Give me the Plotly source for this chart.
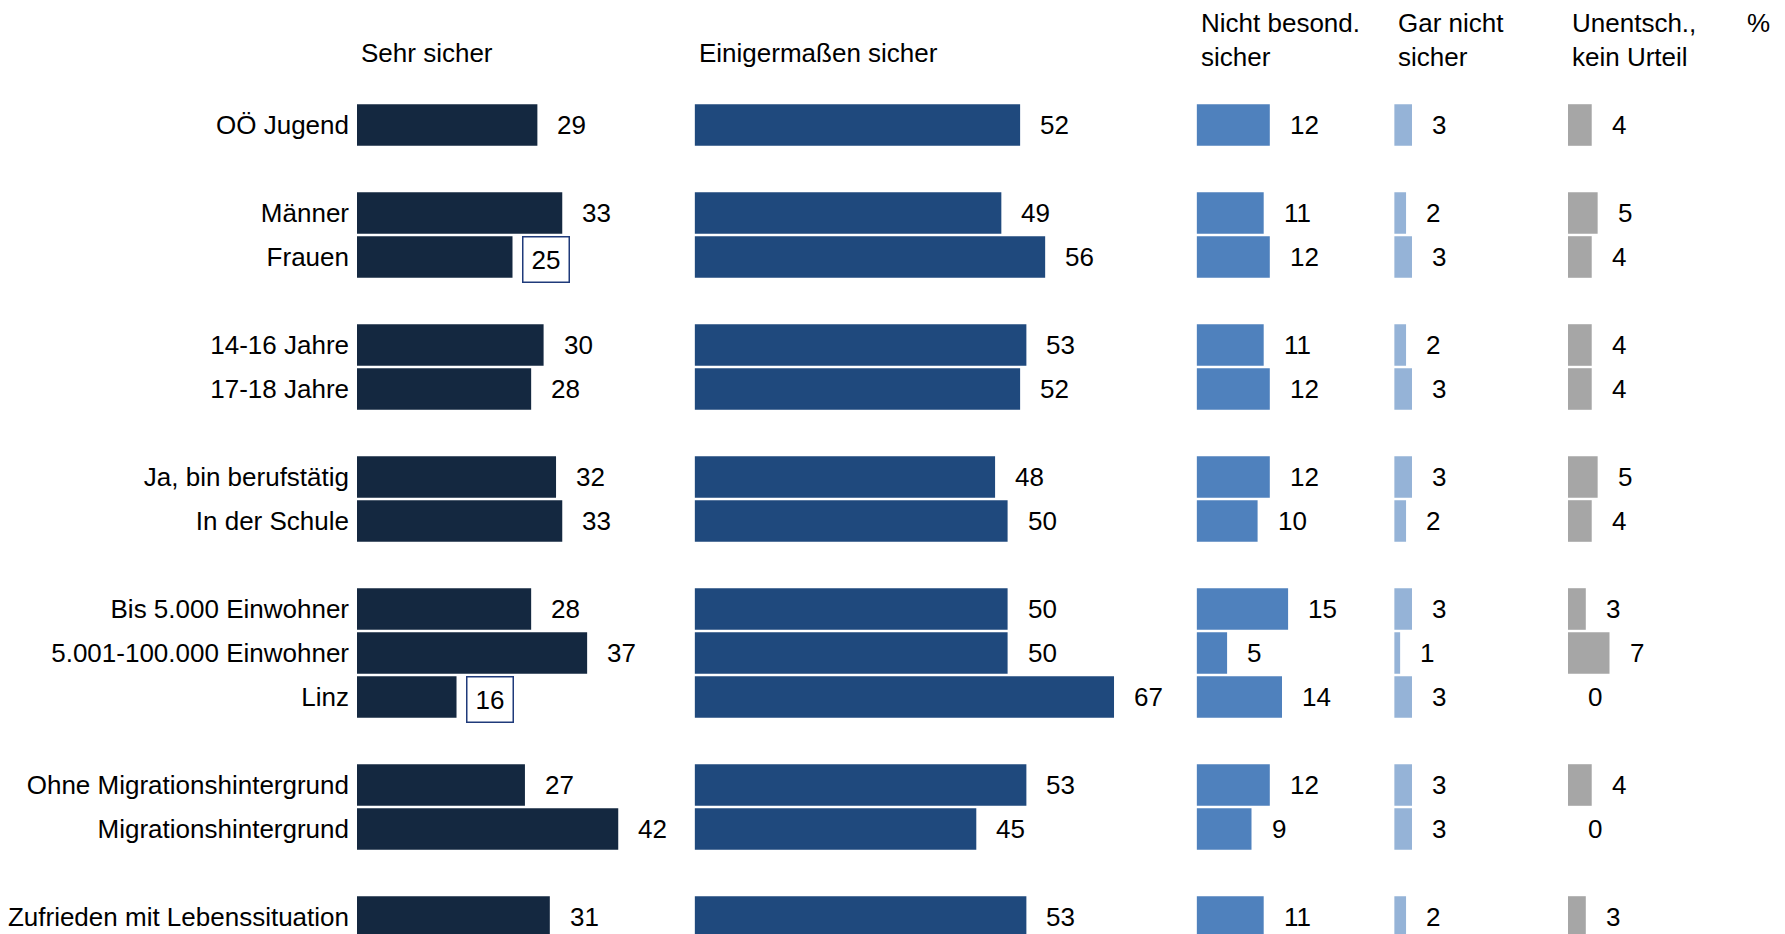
import plotly.graph_objects as go

# row labels, in groups (a blank row is left between groups)
groups = [
    ["OÖ Jugend"],
    ["Männer", "Frauen"],
    ["14-16 Jahre", "17-18 Jahre"],
    ["Ja, bin berufstätig", "In der Schule"],
    ["Bis 5.000 Einwohner", "5.001-100.000 Einwohner", "Linz"],
    ["Ohne Migrationshintergrund", "Migrationshintergrund"],
    ["Zufrieden mit Lebenssituation"],
]

series_names = ["Sehr sicher", "Einigermaßen sicher", "Nicht besond.<br>sicher",
                "Gar nicht<br>sicher", "Unentsch.,<br>kein Urteil"]

sehr_sicher = [29, 33, 25, 30, 28, 32, 33, 28, 37, 16, 27, 42, 31]
einigermassen = [52, 49, 56, 53, 52, 48, 50, 50, 50, 67, 53, 45, 53]
nicht_besond = [12, 11, 12, 11, 12, 12, 10, 15, 5, 14, 12, 9, 11]
gar_nicht = [3, 2, 3, 2, 3, 3, 2, 3, 1, 3, 3, 3, 2]
unentschieden = [4, 5, 4, 4, 4, 5, 4, 3, 7, 0, 4, 0, 3]

# labels of the first series that are drawn in a box
boxed = ["Frauen", "Linz"]

colors = ["#142840", "#1F497D", "#4F81BD", "#95B3D7", "#A6A6A6"]

W, H = 1785, 934
OFF = 8  # the page body adds an 8px margin
FONT = "Liberation Sans, Arial, sans-serif"
FS = 26

# y slot for each row
labels, slots = [], []
pos = 0
for g in groups:
    for name in g:
        labels.append(name)
        slots.append(pos)
        pos += 1
    pos += 1

# panel geometry in pixels: left edge, px per percent, axis max
panels = [(357, 6.22, 50), (694.6, 6.26, 75), (1196.6, 6.1, 30),
          (1394.2, 5.93, 28), (1568, 5.93, 30)]

all_values = [sehr_sicher, einigermassen, nicht_besond, gar_nicht, unentschieden]

fig = go.Figure()
layout = {}
annotations = []

for i, (vals, col, name, (left, scale, xmax)) in enumerate(
        zip(all_values, colors, series_names, panels)):
    ax = "x" if i == 0 else f"x{i + 1}"
    left -= OFF
    fig.add_trace(go.Bar(
        x=vals, y=slots, orientation="h", marker_color=col,
        marker_line_width=0, xaxis=ax, yaxis="y", name=name,
        showlegend=False, hoverinfo="skip",
    ))
    layout["xaxis" if i == 0 else f"xaxis{i + 1}"] = dict(
        domain=[left / W, (left + scale * xmax) / W], range=[0, xmax],
        visible=False, fixedrange=True, anchor="y",
    )
    for lab, v, s in zip(labels, vals, slots):
        if i == 0 and lab in boxed:
            annotations.append(dict(
                x=v, y=s, xref=ax, yref="y", text=str(v), showarrow=False,
                xanchor="left", xshift=9, yshift=-2, width=29, height=28,
                borderpad=8, bordercolor="#1F3A7A", borderwidth=1.5,
                bgcolor="white", font=dict(size=FS, color="black"),
            ))
        else:
            annotations.append(dict(
                x=v, y=s, xref=ax, yref="y", text=str(v), showarrow=False,
                xanchor="left", xshift=18, font=dict(size=FS, color="black"),
            ))

# column headers
T = 80 - OFF
head_y = [53.5, 53.5, 39.5, 39.5, 39.5]
for (left, _, _), name, py in zip(panels, series_names, head_y):
    annotations.append(dict(
        x=(left - OFF + 2) / W, y=(H - py + OFF) / (H - T),
        xref="paper", yref="paper",
        text=name, showarrow=False, xanchor="left", yanchor="middle",
        align="left", font=dict(size=FS, color="black"),
    ))
annotations.append(dict(
    x=(1772 - OFF) / W, y=(H - 23 + OFF) / (H - T), xref="paper",
    yref="paper", text="%", showarrow=False, xanchor="right",
    yanchor="middle", font=dict(size=FS, color="black"),
))

top_off = (125 - 80) / 44
bot_off = (H - (125 - OFF + slots[-1] * 44)) / 44

fig.update_layout(
    **layout,
    yaxis=dict(
        domain=[0, 1], range=[slots[-1] + bot_off, -top_off],
        tickvals=slots, ticktext=labels, ticks="", ticklabelstandoff=7,
        showgrid=False, zeroline=False, showline=False, fixedrange=True,
        anchor="x", tickfont=dict(size=FS, color="black"),
    ),
    annotations=annotations,
    bargap=0.055,
    width=W, height=H,
    margin=dict(l=0, r=0, t=T, b=0, autoexpand=False),
    plot_bgcolor="white", paper_bgcolor="white",
    font=dict(family=FONT, size=FS, color="black"),
)

fig.write_html("out.html")
